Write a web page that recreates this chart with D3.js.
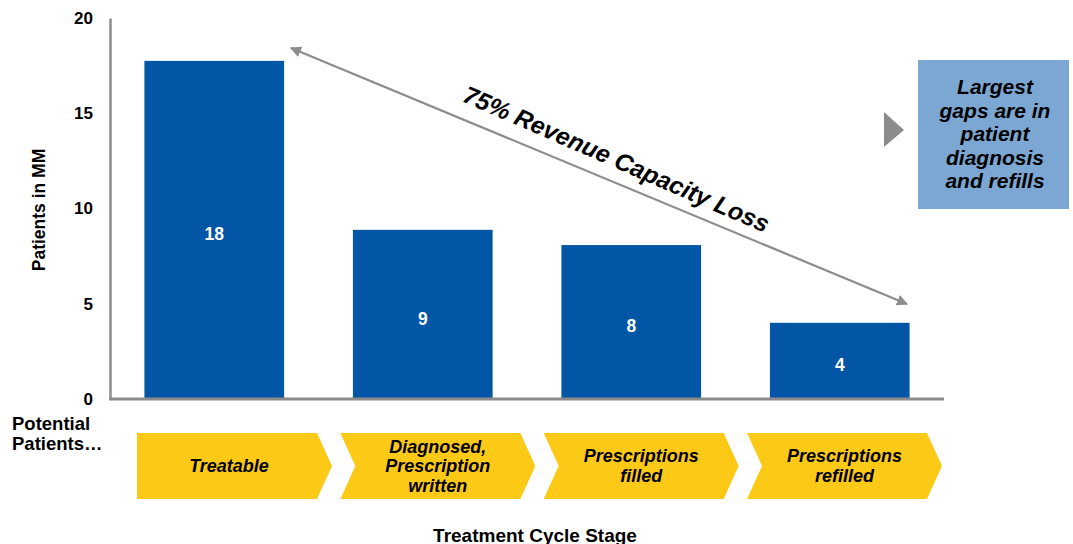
<!DOCTYPE html>
<html>
<head>
<meta charset="utf-8">
<script src="https://cdn.jsdelivr.net/npm/d3@7"></script>
<style>
  body { margin: 0; background: #fff; }
  svg { font-family: "Liberation Sans", Arial, sans-serif; }
</style>
</head>
<body>
<svg class="chart" width="1073" height="544"></svg>
<script>
// data
var stages = ["Treatable", "Diagnosed", "Filled", "Refilled"];
var patients = [17.75, 8.88, 8.08, 4.0];
var valueLabels = ["18", "9", "8", "4"];
var stageLabels = [["Treatable"], ["Diagnosed,", "Prescription", "written"], ["Prescriptions", "filled"], ["Prescriptions", "refilled"]];
var yTicks = [0, 5, 10, 15, 20];
var calloutLines = ["Largest", "gaps are in", "patient", "diagnosis", "and refills"];

var svg = d3.select(".chart");

var x = d3.scaleBand().domain(stages).range([110, 944]).paddingInner(0.33).paddingOuter(0.165);
var y = d3.scaleLinear().domain([0, 20]).range([399, 18]);

// bars
svg.selectAll(".bar")
  .data(patients)
  .enter().append("rect")
  .attr("class", "bar")
  .attr("x", function(d, i) { return x(stages[i]); })
  .attr("y", function(d) { return y(d); })
  .attr("width", x.bandwidth())
  .attr("height", function(d) { return y(0) - y(d); })
  .attr("fill", "#0256a5");

svg.selectAll(".val")
  .data(patients)
  .enter().append("text")
  .attr("x", function(d, i) { return x(stages[i]) + x.bandwidth() / 2; })
  .attr("y", function(d) { return (y(d) + y(0)) / 2 + 4; })
  .attr("dy", ".35em")
  .attr("text-anchor", "middle")
  .attr("fill", "#fff")
  .attr("font-weight", "bold")
  .attr("font-size", 17.5)
  .text(function(d, i) { return valueLabels[i]; });

// y axis
var yAxis = svg.append("g")
  .attr("transform", "translate(110,0)")
  .call(d3.axisLeft(y).tickValues(yTicks).tickSize(0).tickPadding(17));
yAxis.select(".domain").attr("stroke", "#8c8c8c").attr("stroke-width", 2.5);
yAxis.selectAll("text").attr("font-size", 17).attr("font-weight", "bold").attr("fill", "#000")
  .attr("font-family", "Liberation Sans, Arial, sans-serif");

// x baseline
svg.append("line")
  .attr("x1", 109).attr("x2", 944)
  .attr("y1", y(0)).attr("y2", y(0))
  .attr("stroke", "#8c8c8c").attr("stroke-width", 3);

svg.append("text")
  .attr("transform", "translate(45,210) rotate(-90)")
  .attr("text-anchor", "middle")
  .attr("font-size", 17.5).attr("font-weight", "bold")
  .text("Patients in MM");

// arrow
var defs = svg.append("defs");
defs.append("marker")
  .attr("id", "ah")
  .attr("viewBox", "0 0 10 10")
  .attr("refX", 9).attr("refY", 5)
  .attr("markerWidth", 5).attr("markerHeight", 5)
  .attr("orient", "auto-start-reverse")
  .append("path").attr("d", "M0,0L10,5L0,10Z").attr("fill", "#8c8c8c");

svg.append("line")
  .attr("x1", 291).attr("y1", 48)
  .attr("x2", 907).attr("y2", 304)
  .attr("stroke", "#8c8c8c").attr("stroke-width", 2.2)
  .attr("marker-start", "url(#ah)")
  .attr("marker-end", "url(#ah)");

svg.append("text")
  .attr("transform", "translate(613,167) rotate(23.5)")
  .attr("text-anchor", "middle")
  .attr("font-size", 24.5).attr("font-weight", "bold").attr("font-style", "italic")
  .text("75% Revenue Capacity Loss");

// callout
svg.append("path")
  .attr("d", "M884,112L904,130L884,147Z")
  .attr("fill", "#8c8c8c");
svg.append("rect")
  .attr("x", 918).attr("y", 60).attr("width", 151).attr("height", 149)
  .attr("fill", "#7ba7d2");
svg.selectAll(".callout")
  .data(calloutLines)
  .enter().append("text")
  .attr("x", 995)
  .attr("y", function(d, i) { return 94 + i * 23.5; })
  .attr("text-anchor", "middle")
  .attr("font-size", 21).attr("font-weight", "bold").attr("font-style", "italic")
  .text(function(d) { return d; });

// chevrons
var cx = d3.scaleBand().domain(stages).range([137, 942]).paddingInner(0.041).paddingOuter(0);
var cw = cx.bandwidth(), tip = 15, chevTop = 433, chevBot = 499, chevMid = (chevTop + chevBot) / 2;
var chev = svg.selectAll(".chev")
  .data(stageLabels)
  .enter().append("g")
  .attr("transform", function(d, i) { return "translate(" + cx(stages[i]) + ",0)"; });

chev.append("path")
  .attr("d", function(d, i) {
    var notch = i === 0 ? 0 : tip;
    return "M0," + chevTop + "L" + (cw - tip) + "," + chevTop + "L" + cw + "," + chevMid +
      "L" + (cw - tip) + "," + chevBot + "L0," + chevBot + "L" + notch + "," + chevMid + "Z";
  })
  .attr("fill", "#fcc917");

chev.each(function(d, i) {
  var g = d3.select(this);
  var cxm = i === 0 ? (cw - tip) / 2 + 2 : cw / 2;
  var lh = 19.5;
  var y0 = chevMid - (d.length - 1) * lh / 2 + 6;
  d.forEach(function(line, j) {
    g.append("text")
      .attr("x", cxm)
      .attr("y", y0 + j * lh)
      .attr("text-anchor", "middle")
      .attr("font-size", 18).attr("font-weight", "bold").attr("font-style", "italic")
      .text(line);
  });
});

svg.append("text").attr("x", 12).attr("y", 430)
  .attr("font-size", 18.5).attr("font-weight", "bold").text("Potential");
svg.append("text").attr("x", 12).attr("y", 450)
  .attr("font-size", 18.5).attr("font-weight", "bold").text("Patients\u2026");

svg.append("text").attr("x", 535).attr("y", 542)
  .attr("text-anchor", "middle")
  .attr("font-size", 19).attr("font-weight", "bold").text("Treatment Cycle Stage");
</script>
</body>
</html>
